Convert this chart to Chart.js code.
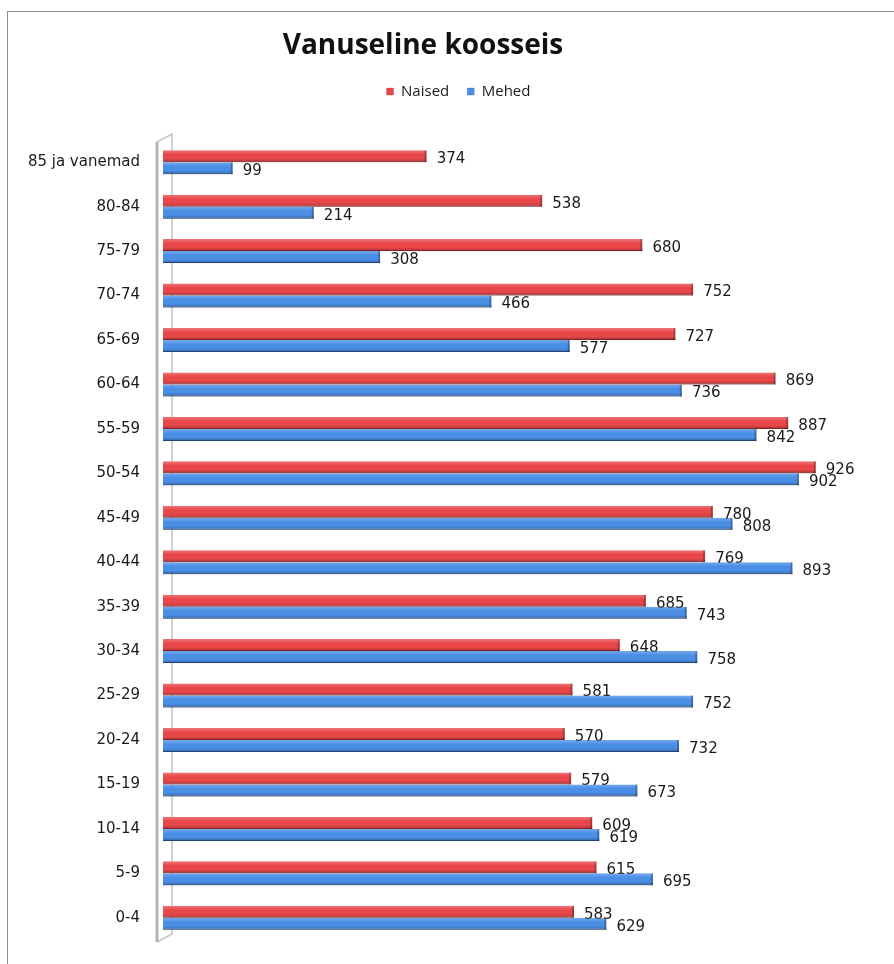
<!DOCTYPE html>
<html>
<head>
<meta charset="utf-8">
<script src="https://cdn.jsdelivr.net/npm/chart.js@4.4.1/dist/chart.umd.min.js"></script>
<style>
  html, body { margin: 0; padding: 0; background: #fff; overflow: hidden; }
  #frame {
    position: absolute; left: 7px; top: 11px; width: 910px; height: 970px;
    border: 1px solid #8c8c8c; box-sizing: border-box; background: #fff;
  }
  #title {
    position: absolute; left: 0; width: 846px; top: 24px; text-align: center;
    font: bold 28px "Open Sans", "Liberation Sans", sans-serif; color: #111;
  }
  #chart { position: absolute; left: 1px; top: 1px; }
</style>
</head>
<body>
<div id="frame">
  <canvas id="chart" width="906" height="959"></canvas>
</div>
<div id="title">Vanuseline koosseis</div>
<script>
// vanuserühmad ülevalt alla
const categories = ["85 ja vanemad", "80-84", "75-79", "70-74", "65-69", "60-64", "55-59", "50-54",
  "45-49", "40-44", "35-39", "30-34", "25-29", "20-24", "15-19", "10-14", "5-9", "0-4"];
const naised = [374, 538, 680, 752, 727, 869, 887, 926, 780, 769, 685, 648, 581, 570, 579, 609, 615, 583];
const mehed = [99, 214, 308, 466, 577, 736, 842, 902, 808, 893, 743, 758, 752, 732, 673, 619, 695, 629];
const xMax = 1000;

// külgsein (3D efekt) vasakul
const wallPlugin = {
  id: "wall",
  beforeDatasetsDraw(chart) {
    const { ctx, chartArea } = chart;
    const l = chartArea.left, t = chartArea.top, b = chartArea.bottom;
    ctx.save();
    ctx.strokeStyle = "#c4c4c4";
    ctx.lineWidth = 1.5;
    ctx.beginPath();
    ctx.moveTo(l - 6, b + 2);
    ctx.lineTo(l - 6, t + 2);
    ctx.lineTo(l + 9, t - 6);
    ctx.lineTo(l + 9, b - 6);
    ctx.lineTo(l - 6, b + 2);
    ctx.stroke();
    ctx.strokeStyle = "#b4b4b4";
    ctx.lineWidth = 3;
    ctx.beginPath();
    ctx.moveTo(l - 6, t + 2);
    ctx.lineTo(l - 6, b + 2);
    ctx.stroke();
    ctx.restore();
  }
};

// varjutus ja väärtused ribade otsas
const barLookPlugin = {
  id: "barLook",
  afterDatasetsDraw(chart) {
    const { ctx } = chart;
    ctx.save();
    chart.data.datasets.forEach((ds, di) => {
      const meta = chart.getDatasetMeta(di);
      meta.data.forEach((el, i) => {
        const top = el.y - el.height / 2, bot = el.y + el.height / 2;
        const g = ctx.createLinearGradient(0, top, 0, bot);
        g.addColorStop(0, "rgba(255,255,255,0.25)");
        g.addColorStop(0.35, "rgba(255,255,255,0)");
        g.addColorStop(0.7, "rgba(0,0,0,0)");
        g.addColorStop(1, "rgba(0,0,0,0.3)");
        ctx.fillStyle = g;
        ctx.fillRect(el.base, top, el.x - el.base, el.height);
        ctx.fillStyle = "rgba(0,0,0,0.25)";
        ctx.fillRect(el.x - 2, top, 2, el.height);
        ctx.fillStyle = "#1a1a1a";
        ctx.font = "15px 'DejaVu Sans', sans-serif";
        ctx.textAlign = "left";
        ctx.textBaseline = "middle";
        ctx.fillText(String(ds.data[i]), el.x + 10, el.y + 3);
      });
    });
    ctx.restore();
  }
};

// legendi alla lisaruum ja legendi nihe paremale
const legendTweak = {
  id: "legendTweak",
  beforeInit(chart) {
    const fit = chart.legend.fit;
    chart.legend.fit = function () {
      fit.bind(chart.legend)();
      this.height += 31;
    };
  },
  afterLayout(chart) {
    chart.legend.left += 20;
    chart.legend.right += 20;
  }
};

new Chart(document.getElementById("chart"), {
  type: "bar",
  data: {
    labels: categories,
    datasets: [
      { label: "Naised", data: naised, backgroundColor: "#e8474a", borderColor: "#b32c2e",
        borderWidth: { bottom: 1 }, borderSkipped: "left" },
      { label: "Mehed", data: mehed, backgroundColor: "#4a8ee6", borderColor: "#2d5f9f",
        borderWidth: { bottom: 1 }, borderSkipped: "left" }
    ]
  },
  options: {
    indexAxis: "y",
    responsive: false,
    animation: false,
    layout: { padding: { top: 53, right: 47, bottom: 18, left: 0 } },
    datasets: { bar: { categoryPercentage: 0.54, barPercentage: 1.0 } },
    scales: {
      x: { display: false, min: 0, max: xMax },
      y: {
        grid: { display: false, drawTicks: false },
        border: { display: false },
        afterFit(scale) { scale.width = 154; },
        ticks: { padding: 23, color: "#1a1a1a", font: { family: "'DejaVu Sans', sans-serif", size: 15 } }
      }
    },
    plugins: {
      title: { display: false },
      tooltip: { enabled: false },
      legend: {
        position: "top",
        labels: {
          boxWidth: 7, boxHeight: 7, padding: 18, color: "#1a1a1a",
          font: { family: "'Open Sans', sans-serif", size: 15 }
        }
      }
    }
  },
  plugins: [wallPlugin, barLookPlugin, legendTweak]
});
</script>
</body>
</html>
